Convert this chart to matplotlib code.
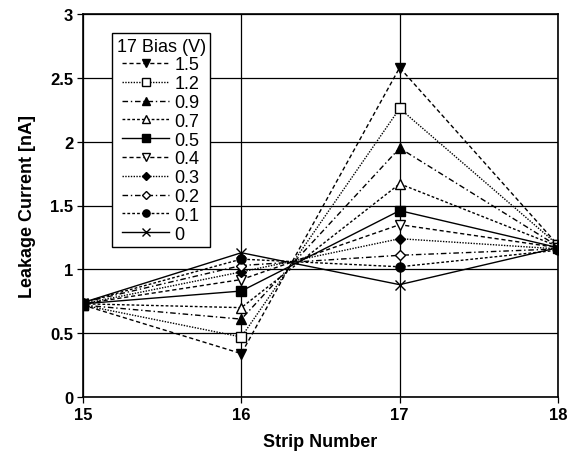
import matplotlib
matplotlib.use("Agg")
import matplotlib.pyplot as plt

plt.rcParams['font.family'] = ['Liberation Sans', 'DejaVu Sans']

strips = [15, 16, 17, 18]
bias_labels = ['1.5', '1.2', '0.9', '0.7', '0.5', '0.4', '0.3', '0.2', '0.1', '0']
values = {
    '1.5': [0.72, 0.34, 2.58, 1.19],
    '1.2': [0.72, 0.47, 2.26, 1.19],
    '0.9': [0.72, 0.61, 1.95, 1.18],
    '0.7': [0.73, 0.70, 1.67, 1.18],
    '0.5': [0.73, 0.83, 1.46, 1.17],
    '0.4': [0.73, 0.92, 1.35, 1.17],
    '0.3': [0.73, 0.98, 1.24, 1.16],
    '0.2': [0.74, 1.03, 1.11, 1.16],
    '0.1': [0.74, 1.08, 1.02, 1.15],
    '0':   [0.74, 1.13, 0.88, 1.17],
}
yticks = [0, 0.5, 1, 1.5, 2, 2.5, 3]
ytick_labels = ['0', '0.5', '1', '1.5', '2', '2.5', '3']

styles = {
    '1.5': dict(ls=(0, (3, 2)), marker='v', mfc='black'),
    '1.2': dict(ls=(0, (1, 1)), marker='s', mfc='white'),
    '0.9': dict(ls=(0, (4, 2, 1, 2)), marker='^', mfc='black'),
    '0.7': dict(ls=(0, (2, 1.5)), marker='^', mfc='white'),
    '0.5': dict(ls='-', marker='s', mfc='black'),
    '0.4': dict(ls=(0, (3, 2)), marker='v', mfc='white'),
    '0.3': dict(ls=(0, (1, 1)), marker='D', mfc='black'),
    '0.2': dict(ls=(0, (4, 2, 1, 2)), marker='D', mfc='white'),
    '0.1': dict(ls=(0, (2, 1.5)), marker='o', mfc='black'),
    '0':   dict(ls='-', marker='x', mfc='black'),
}

fig = plt.figure(figsize=(5.7, 4.56), dpi=100)
ax = fig.add_axes([83/570, 1-398/456, (558-83)/570, (398-15)/456])

for b in bias_labels:
    st = styles[b]
    ms = 5 if st['marker'] == 'D' else 6.5
    ax.plot(strips, values[b], color='black', lw=1.0, linestyle=st['ls'],
            marker=st['marker'], mfc=st['mfc'], mec='black', ms=ms, mew=1.0,
            label=b)

ax.set_xlim(15, 18)
ax.set_ylim(0, 3)
ax.set_xticks(strips)
ax.set_yticks(yticks)
ax.set_yticklabels(ytick_labels)
ax.grid(True, color='black', lw=0.9)
ax.set_axisbelow(True)
for s in ax.spines.values():
    s.set_linewidth(1.2)
ax.tick_params(direction='out', length=4, width=0.9, labelsize=12, pad=3)
for lab in ax.get_xticklabels() + ax.get_yticklabels():
    lab.set_fontweight('bold')
ax.set_xlabel('Strip Number', fontsize=13, fontweight='bold', labelpad=8)
ax.set_ylabel('Leakage Current [nA]', fontsize=13, fontweight='bold', labelpad=10)

leg = ax.legend(title='17 Bias (V)', loc='upper left', bbox_to_anchor=(29/475, 1-19/383),
                frameon=True, fancybox=False, edgecolor='black', fontsize=13,
                title_fontsize=13, handlelength=2.6, handletextpad=0.3,
                labelspacing=0.1, borderpad=0.25, borderaxespad=0, markerscale=0.8)
leg.get_frame().set_linewidth(1.0)
leg.get_frame().set_alpha(1)

fig.savefig('out.png', dpi=100)
